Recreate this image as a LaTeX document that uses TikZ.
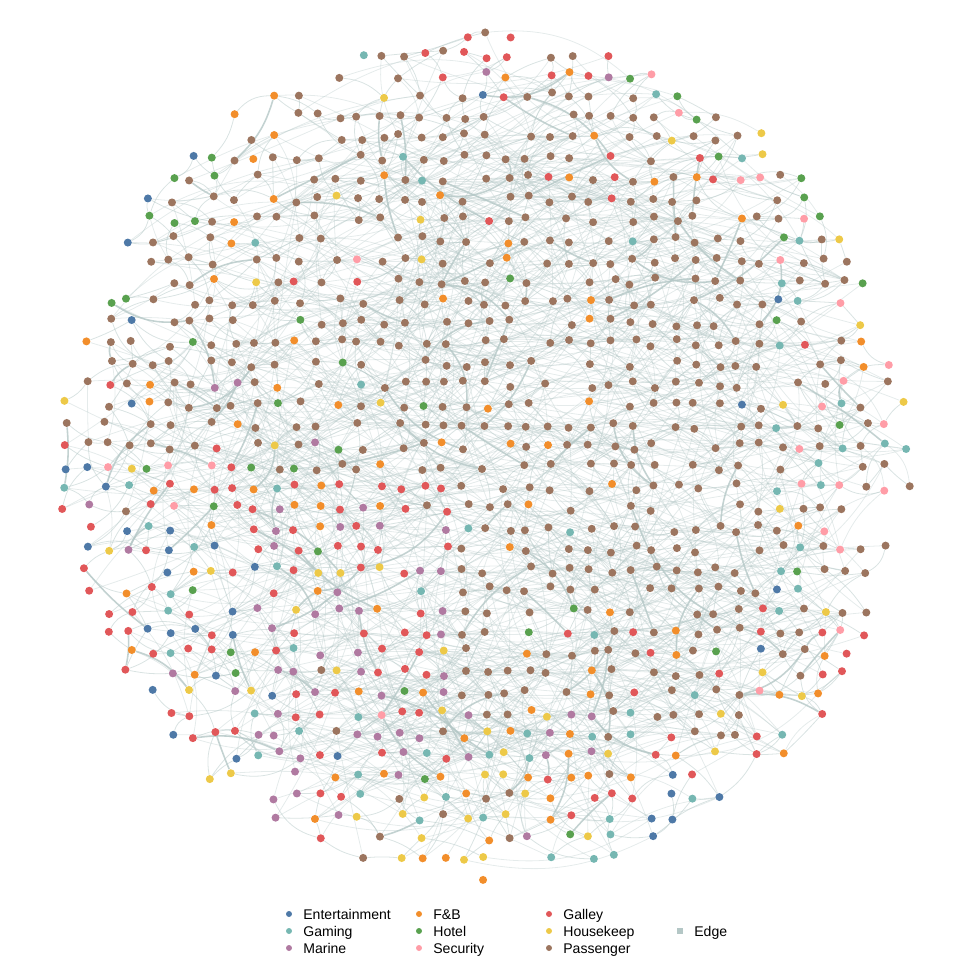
\documentclass[tikz,border=0pt]{standalone}
\usepackage{fontspec}
\setmainfont{Liberation Sans}
\definecolor{cE}{HTML}{4E79A7}
\definecolor{cG}{HTML}{76B7B2}
\definecolor{cM}{HTML}{B07AA1}
\definecolor{cF}{HTML}{F28E2B}
\definecolor{cH}{HTML}{59A14F}
\definecolor{cS}{HTML}{FF9DA7}
\definecolor{cGa}{HTML}{E15759}
\definecolor{cHo}{HTML}{EDC948}
\definecolor{cP}{HTML}{9C755F}
\definecolor{edgec}{HTML}{B4C7C6}
\pgfdeclarelayer{edges}
\pgfsetlayers{edges,main}
\newdimen\pkA \newdimen\pkB
\makeatletter
\newcommand\IfNode[3]{\pgfutil@ifundefined{pgf@sh@ns@#1}{#3}{#2}}
\makeatother
% weights: E G M F H S Ga Ho (rest = Passenger)
\newcommand\pickcol[8]{%
  \pgfmathsetmacro\rr{rnd*100}%
  \pkA=\rr pt \pkB=0pt
  \advance\pkB by #1pt \ifdim\pkA<\pkB \def\col{cE}\else
  \advance\pkB by #2pt \ifdim\pkA<\pkB \def\col{cG}\else
  \advance\pkB by #3pt \ifdim\pkA<\pkB \def\col{cM}\else
  \advance\pkB by #4pt \ifdim\pkA<\pkB \def\col{cF}\else
  \advance\pkB by #5pt \ifdim\pkA<\pkB \def\col{cH}\else
  \advance\pkB by #6pt \ifdim\pkA<\pkB \def\col{cS}\else
  \advance\pkB by #7pt \ifdim\pkA<\pkB \def\col{cGa}\else
  \advance\pkB by #8pt \ifdim\pkA<\pkB \def\col{cHo}\else
  \def\col{cP}\fi\fi\fi\fi\fi\fi\fi\fi}
\newcommand\setregion{%
  \def\reg{0}%
  \ifdim\gx pt>430pt \ifdim\gx pt<660pt \ifdim\gy pt>85pt \ifdim\gy pt<235pt \def\reg{1}\fi\fi\fi\fi
  \ifdim\gy pt<85pt \ifdim\gx pt>410pt \def\reg{2}\fi\fi
  \ifdim\gx pt>620pt \ifdim\gy pt<260pt \ifdim\dd pt>0.68pt \def\reg{3}\fi\fi\fi
  \ifdim\gx pt<260pt \ifdim\gy pt<330pt \ifdim\dd pt>0.78pt \def\reg{4}\fi\fi\fi
  \ifdim\gx pt<130pt \ifdim\gy pt>375pt \def\reg{5}\fi\fi
  \ifdim\gx pt>775pt \ifdim\gy pt>250pt \def\reg{6}\fi\fi
  \ifdim\gx pt>620pt \ifdim\gy pt>600pt \def\reg{7}\fi\fi
  \ifdim\gx pt>635pt \ifdim\gx pt<730pt \ifdim\gy pt>765pt \def\reg{8}\fi\fi\fi
  \ifdim\gx pt<265pt \ifdim\gy pt>465pt \def\reg{9}\fi\fi
  \ifdim\gx pt>255pt \ifdim\gx pt<445pt \ifdim\gy pt>475pt \def\reg{10}\fi\fi\fi
  \ifdim\gx pt>440pt \ifdim\gx pt<635pt \ifdim\gy pt>700pt \def\reg{11}\fi\fi\fi
  \ifdim\gx pt>330pt \ifdim\gx pt<445pt \ifdim\gy pt>770pt \def\reg{11}\fi\fi\fi
}
\newcommand\pickregion{%
  \ifcase\reg
    \pickcol{0.5}{2}{0.5}{7}{1}{0.5}{1.5}{1}%
  \or \pickcol{1}{0}{0}{5}{0}{0}{14}{1}%
  \or \pickcol{0}{0}{28}{12}{0}{0}{35}{0}%
  \or \pickcol{1}{2}{2}{8}{16}{8}{8}{12}%
  \or \pickcol{10}{4}{0}{8}{25}{0}{0}{0}%
  \or \pickcol{5}{0}{0}{0}{0}{0}{30}{30}%
  \or \pickcol{2}{20}{0}{5}{2}{14}{8}{3}%
  \or \pickcol{2}{2}{0}{11}{1}{2}{22}{8}%
  \or \pickcol{75}{5}{0}{0}{0}{0}{5}{5}%
  \or \pickcol{15}{15}{3}{12}{8}{4}{35}{5}%
  \or \pickcol{3}{8}{34}{8}{1}{2}{30}{10}%
  \or \pickcol{0}{22}{12}{14}{6}{0}{6}{22}%
  \fi}
\newcommand\tryedge[5]{% style, di-lo, di-hi, dj-lo, dj-hi
  \pgfmathrandominteger{\di}{#2}{#3}%
  \pgfmathrandominteger{\dj}{#4}{#5}%
  \pgfmathtruncatemacro\ti{\i+\di}%
  \pgfmathtruncatemacro\tj{\j+\dj}%
  \IfNode{n\ti-\tj}{\pgfmathsetmacro\bb{rnd*50-25}\draw[#1] (n\i-\j) to[bend left=\bb] (n\ti-\tj);}{}}
\tikzset{
  dot/.style={circle,inner sep=0pt,minimum size=0.16cm,draw=none},
  ldot/.style={circle,inner sep=0pt,minimum size=0.12cm,draw=none},
  lsq/.style={rectangle,inner sep=0pt,minimum size=0.13cm,draw=none,fill=edgec},
  ltext/.style={anchor=base west,inner sep=0pt,font=\fontsize{8}{9.6}\selectfont},
  edge/.style={draw=edgec,line width=0.45pt,opacity=0.5},
  edgel/.style={draw=edgec,line width=0.45pt,opacity=0.35},
  edgeb/.style={draw=edgec,line width=0.9pt,opacity=0.8}
}
\begin{document}
\begin{tikzpicture}[x=0.02cm,y=-0.02cm]
\useasboundingbox (0,0) rectangle (960,960);
\pgfmathsetseed{4242}
% nodes on a jittered grid inside a disc
\foreach \i in {0,...,40}{
  \foreach \j in {0,...,41}{
    \pgfmathsetmacro\gx{66+21*\i}
    \pgfmathsetmacro\gy{34+20.6*\j}
    \pgfmathsetmacro\dd{((\gx-487)/425)^2+((\gy-456)/423)^2}
    \ifdim\dd pt<1pt
      \pgfmathsetmacro\keep{rnd}
      \pgfmathsetmacro\thr{\dd>0.8 ? 0.68 : 0.85}
      \ifdim\keep pt<\thr pt
        \setregion
        \pickregion
        \pgfmathsetmacro\jx{\gx+8*rnd-4}
        \pgfmathsetmacro\jy{\gy+8*rnd-4}
        \node[dot,fill=\col] (n\i-\j) at (\jx,\jy) {};
      \fi
    \fi
  }
}
% connectors
\begin{pgfonlayer}{edges}
\foreach \i in {0,...,40}{
  \foreach \j in {0,...,41}{
    \IfNode{n\i-\j}{%
      \pgfmathsetmacro\gx{66+21*\i}%
      \pgfmathsetmacro\gy{34+20.6*\j}%
      \pgfmathsetmacro\dd{((\gx-487)/425)^2+((\gy-456)/423)^2}%
      \tryedge{edge}{-2}{2}{1}{2}%
      \tryedge{edge}{1}{3}{-1}{1}%
      \pgfmathsetmacro\pl{rnd}%
      \ifdim\pl pt<0.85pt \tryedge{edgel}{-10}{10}{2}{5}\fi
      \pgfmathsetmacro\pl{rnd}%
      \ifdim\pl pt<0.7pt \tryedge{edgel}{3}{10}{-3}{3}\fi
      \ifdim\dd pt<0.6pt
        \tryedge{edgel}{4}{12}{-4}{4}%
        \tryedge{edgel}{-6}{6}{3}{7}%
      \fi
      \pgfmathsetmacro\pl{rnd}%
      \ifdim\pl pt<0.15pt \tryedge{edgeb}{-4}{4}{1}{3}\fi
    }{}
  }
}
\end{pgfonlayer}
% legend
\node[ldot,fill=cE] (lE) at (289,914) {};
\node[ltext] (tE) at (303,919.5) {Entertainment};
\node[ldot,fill=cG] (lG) at (289,931) {};
\node[ltext] (tG) at (303,936.5) {Gaming};
\node[ldot,fill=cM] (lM) at (289,948) {};
\node[ltext] (tM) at (303,953.5) {Marine};
\node[ldot,fill=cF] (lF) at (419,914) {};
\node[ltext] (tF) at (433,919.5) {F\&B};
\node[ldot,fill=cH] (lH) at (419,931) {};
\node[ltext] (tH) at (433,936.5) {Hotel};
\node[ldot,fill=cS] (lS) at (419,948) {};
\node[ltext] (tS) at (433,953.5) {Security};
\node[ldot,fill=cGa] (lGa) at (549,914) {};
\node[ltext] (tGa) at (563,919.5) {Galley};
\node[ldot,fill=cHo] (lHo) at (549,931) {};
\node[ltext] (tHo) at (563,936.5) {Housekeep};
\node[ldot,fill=cP] (lP) at (549,948) {};
\node[ltext] (tP) at (563,953.5) {Passenger};
\node[lsq] (lEd) at (680,931) {};
\node[ltext] (tEd) at (694,936.5) {Edge};
\end{tikzpicture}
\end{document}
